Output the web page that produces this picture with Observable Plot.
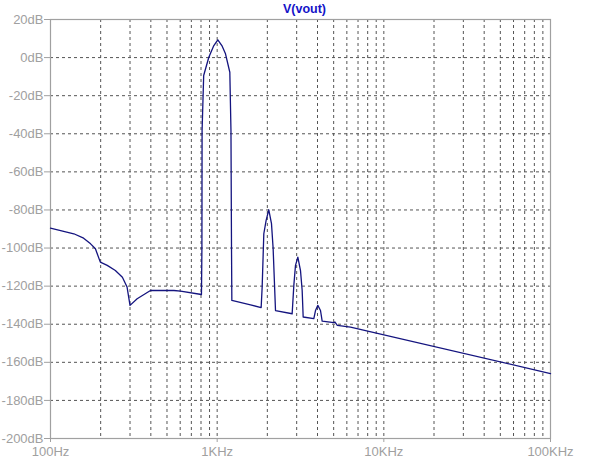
<!DOCTYPE html>
<html>
<head>
<meta charset="utf-8">
<script src="https://cdn.jsdelivr.net/npm/d3@7"></script>
<script src="https://cdn.jsdelivr.net/npm/@observablehq/plot@0.6"></script>
<style>
  html, body { margin: 0; padding: 0; background: #ffffff; }
  #chart svg { display: block; }
</style>
</head>
<body>
<div id="chart"></div>
<script>
const title = "V(vout)";
const freqHz = [100, 115, 138, 158, 174, 186, 199, 219, 245, 270, 288, 300, 331, 398, 550, 603, 805,
  810, 812, 830, 891, 955, 1009, 1067, 1122, 1191, 1210, 1219, 1225, 1585, 1836,
  1862, 1905, 1967, 2041, 2118, 2167, 2239, 2818, 2884, 2951, 3048, 3162, 3236, 3281,
  3802, 3890, 4018, 4169, 4266, 5012, 5080, 5260, 6310, 100000];
const magDb = [-89.6, -90.8, -92.5, -94.8, -97.8, -100.4, -107.4, -109.1, -111.8, -115.3, -120.5, -130.1, -126.6, -122.3, -122.3, -122.6, -124.4,
  -100.4, -38.3, -9.4, 0.2, 6.3, 9.3, 6.3, 2.0, -7.7, -38.3, -99.5, -127.5, -129.8, -131.3,
  -120.5, -92.5, -85.5, -79.9, -87.2, -100.4, -132.8, -134.5, -119.6, -109.1, -104.8, -111.8, -122.3, -136.2,
  -137.1, -132.8, -130.1, -132.8, -138.4, -139.2, -138.8, -140.6, -141.5, -165.9];
const xTicks = [100, 1000, 10000, 100000];
const xTickLabels = ["100Hz", "1KHz", "10KHz", "100KHz"];
const yTicks = [-200, -180, -160, -140, -120, -100, -80, -60, -40, -20, 0, 20];
const yTickLabels = ["-200dB", "-180dB", "-160dB", "-140dB", "-120dB", "-100dB", "-80dB", "-60dB", "-40dB", "-20dB", "0dB", "20dB"];

const data = freqHz.map((f, i) => ({f, db: magDb[i]}));
const gridX = [];
for (const dec of [100, 1000, 10000]) for (let k = 1; k <= 9; k++) { if (dec * k > 100) gridX.push(dec * k); }
const gridY = yTicks.filter(v => v > -200 && v < 20);

const gray = "#a0a0a0";
const chart = Plot.plot({
  width: 610,
  height: 465,
  marginLeft: 50,
  marginRight: 60,
  marginTop: 19,
  marginBottom: 27,
  style: {fontFamily: "'Liberation Sans', Arial, sans-serif", fontSize: "13px", background: "#ffffff"},
  x: {type: "log", domain: [100, 100000]},
  y: {domain: [-200, 20]},
  marks: [
    Plot.ruleX(gridX, {stroke: "#555555", strokeWidth: 1, strokeDasharray: "3,3"}),
    Plot.ruleY(gridY, {stroke: "#555555", strokeWidth: 1, strokeDasharray: "3,3"}),
    Plot.frame({stroke: gray, strokeWidth: 1.2}),
    Plot.axisX({ticks: xTicks, tickFormat: (d, i) => xTickLabels[xTicks.indexOf(d)], tickSize: 4, tickPadding: 4,
      stroke: gray, color: gray, fill: gray, fontSize: 13, label: null}),
    Plot.axisY({ticks: yTicks, tickFormat: d => yTickLabels[yTicks.indexOf(d)], tickSize: 6, tickPadding: 1,
      stroke: gray, color: gray, fill: gray, fontSize: 13, label: null}),
    Plot.line(data, {x: "f", y: "db", stroke: "#14147f", strokeWidth: 1.3, curve: "linear"}),
    Plot.text([title], {frameAnchor: "top", dx: 4, dy: -11, fill: "#1414c8", fontWeight: "bold", fontSize: 12.5, lineAnchor: "middle"})
  ]
});
document.getElementById("chart").appendChild(chart);
</script>
</body>
</html>
